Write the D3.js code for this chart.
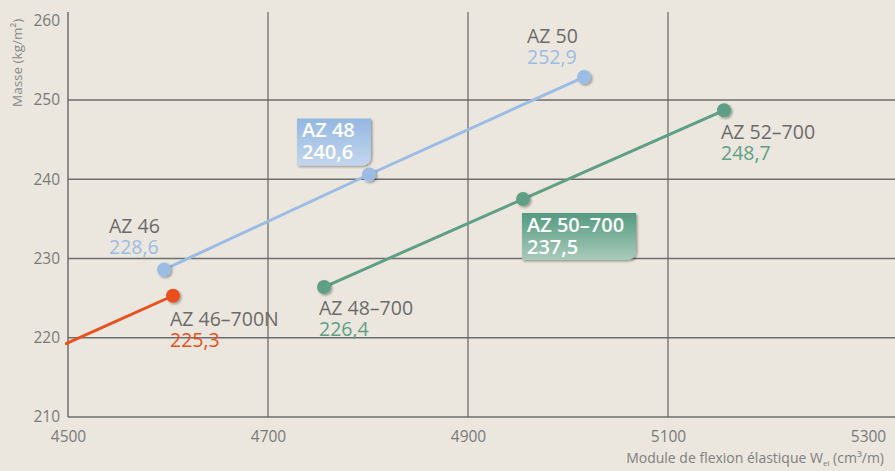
<!DOCTYPE html>
<html><head><meta charset="utf-8">
<script src="https://cdn.jsdelivr.net/npm/d3@7"></script>
<style>
body{margin:0;background:#ebe7de;}
svg{display:block;font-family:"Open Sans",sans-serif;}
</style></head><body>
<svg id="c" width="895" height="471"></svg>
<script>
const xTicks=[4500,4700,4900,5100,5300];
const yTicks=[210,220,230,240,250,260];
const blueNames=["AZ 46","AZ 48","AZ 50"];
const blueX=[4596,4801,5016];
const blueY=[228.6,240.6,252.9];
const greenNames=["AZ 48–700","AZ 50–700","AZ 52–700"];
const greenX=[4756,4955,5156];
const greenY=[226.4,237.5,248.7];
const orangeNames=["","AZ 46–700N"];
const orangeX=[4497,4605];
const orangeY=[219.2,225.3];
const orangeMarker=[false,true];

const svg=d3.select("#c");
const x=d3.scaleLinear().domain([4500,5300]).range([68,868]);
const y=d3.scaleLinear().domain([210,260]).range([417,20.75]);

const defs=svg.append("defs");
const f=defs.append("filter").attr("id","sh").attr("x","-50%").attr("y","-50%").attr("width","200%").attr("height","200%");
f.append("feDropShadow").attr("dx",1.5).attr("dy",1.5).attr("stdDeviation",1.3).attr("flood-color","#000").attr("flood-opacity",0.35);
const gb=defs.append("linearGradient").attr("id","gb").attr("x1",0).attr("y1",0).attr("x2",0).attr("y2",1);
gb.append("stop").attr("offset",0).attr("stop-color","#94b7e2");
gb.append("stop").attr("offset",1).attr("stop-color","#c4d6ee");
const gg=defs.append("linearGradient").attr("id","gg").attr("x1",0).attr("y1",0).attr("x2",0).attr("y2",1);
gg.append("stop").attr("offset",0).attr("stop-color","#549a80");
gg.append("stop").attr("offset",1).attr("stop-color","#a9cbbb");

const gridCol="#6e6e6e";
svg.append("g").selectAll("line").data(yTicks.slice(1,5)).join("line")
  .attr("x1",x(4500)).attr("x2",x(5300)+27).attr("y1",d=>y(d)).attr("y2",d=>y(d))
  .attr("stroke",gridCol).attr("stroke-width",1.3);
svg.append("g").selectAll("line").data(xTicks.slice(1,4)).join("line")
  .attr("x1",d=>x(d)).attr("x2",d=>x(d)).attr("y1",y(210)).attr("y2",12)
  .attr("stroke",gridCol).attr("stroke-width",1.3);
const xa=svg.append("g").attr("transform",`translate(0,${y(210)})`)
  .call(d3.axisBottom(x).tickValues(xTicks).tickSize(0).tickPadding(14).tickFormat(d3.format("d")));
xa.select(".domain").remove();
svg.append("line").attr("x1",x(4500)).attr("x2",x(5300)+27).attr("y1",y(210)).attr("y2",y(210)).attr("stroke",gridCol).attr("stroke-width",1.5);
const ya=svg.append("g").attr("transform",`translate(${x(4500)},0)`)
  .call(d3.axisLeft(y).tickValues(yTicks).tickSize(0).tickPadding(8));
ya.select(".domain").remove();
svg.append("line").attr("x1",x(4500)).attr("x2",x(4500)).attr("y1",12).attr("y2",y(210)).attr("stroke",gridCol).attr("stroke-width",1.5);
svg.selectAll(".tick text").attr("fill","#7a7a7a").attr("font-size",15.5).attr("font-family","Open Sans, sans-serif");

svg.append("text").attr("transform","translate(22,107) rotate(-90)").attr("fill","#8a8a8a").attr("font-size",13.5).text("Masse (kg/m²)");
const xt=svg.append("text").attr("x",884).attr("y",463).attr("text-anchor","end").attr("fill","#808080").attr("font-size",14);
xt.append("tspan").text("Module de flexion élastique W");
xt.append("tspan").attr("font-size",8).attr("dy",3).text("el");
xt.append("tspan").attr("dy",-3).text(" (cm³/m)");

const line=d3.line().x(d=>x(d[0])).y(d=>y(d[1]));
defs.append("clipPath").attr("id","cl").append("rect").attr("x",x(4500)-3).attr("y",0).attr("width",900).attr("height",471);

function series(xs,ys,col,markers){
  const pts=xs.map((v,i)=>[v,ys[i]]);
  svg.append("path").datum(pts).attr("d",line).attr("fill","none").attr("stroke",col).attr("stroke-width",3).attr("clip-path","url(#cl)");
  svg.append("g").selectAll("circle").data(pts.filter((p,i)=>!markers||markers[i])).join("circle")
    .attr("cx",d=>x(d[0])).attr("cy",d=>y(d[1])).attr("r",7).attr("fill",col).attr("filter","url(#sh)");
}
const blue="#9bbde5", green="#5e9f86", orange="#e8501c";
series(blueX,blueY,blue);
series(greenX,greenY,green);
series(orangeX,orangeY,orange,orangeMarker);

const fmt=v=>d3.format(".1f")(v).replace(".",",");
function plainLabel(px,py,name,val,col,ox,oy){
  const g=svg.append("g").attr("transform",`translate(${x(px)+ox},${y(py)+oy})`).attr("font-size",19.5);
  g.append("text").attr("fill","#6b6b6b").text(name);
  g.append("text").attr("y",21).attr("fill",col).text(fmt(val));
}
plainLabel(blueX[0],blueY[0],blueNames[0],blueY[0],blue,-55,-37);
plainLabel(blueX[2],blueY[2],blueNames[2],blueY[2],blue,-57,-34);
plainLabel(greenX[0],greenY[0],greenNames[0],greenY[0],green,-5,28);
plainLabel(greenX[2],greenY[2],greenNames[2],greenY[2],green,-3,29);
plainLabel(orangeX[1],orangeY[1],orangeNames[1],orangeY[1],orange,-3,30);

function boxLabel(px,py,name,val,fill,bx,by,bw,bh){
  const X=x(px)+bx, Y=y(py)+by, r=10;
  const g=svg.append("g");
  g.append("path").attr("d",`M${X},${Y}H${X+bw}V${Y+bh-r}Q${X+bw},${Y+bh} ${X+bw-r},${Y+bh}H${X}Z`)
    .attr("fill",fill).attr("filter","url(#sh)");
  g.append("text").attr("x",X+5).attr("y",Y+19).attr("fill","#fff").attr("font-size",20).attr("font-weight",600).text(name);
  g.append("text").attr("x",X+5).attr("y",Y+41).attr("fill","#fff").attr("font-size",20).attr("font-weight",600).text(fmt(val));
}
boxLabel(blueX[1],blueY[1],blueNames[1],blueY[1],"url(#gb)",-72,-56,74,47);
boxLabel(greenX[1],greenY[1],greenNames[1],greenY[1],"url(#gg)",-1,14,114,47);
</script></body></html>
